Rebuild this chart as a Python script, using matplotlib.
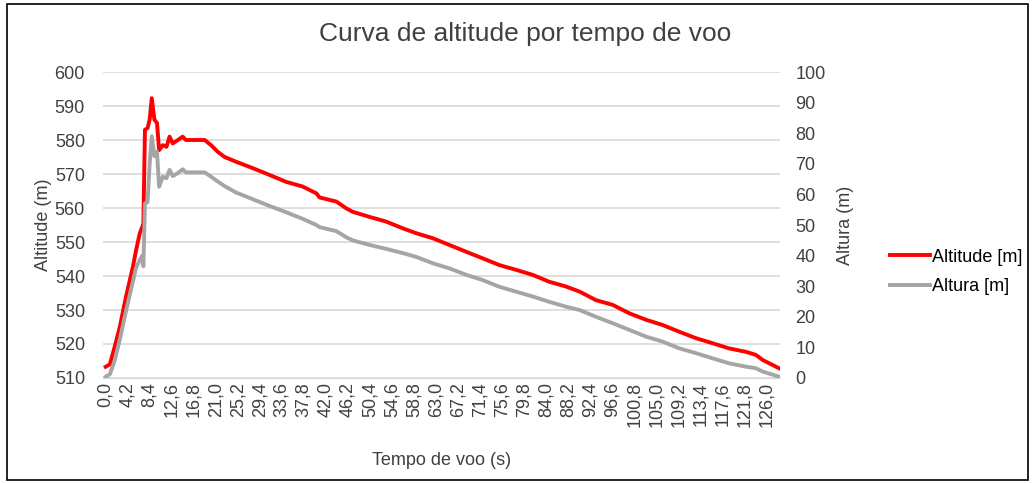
import numpy as np
import matplotlib.pyplot as plt
from matplotlib.patches import Rectangle
from matplotlib.lines import Line2D

plt.rcParams['font.family'] = ['Liberation Sans', 'DejaVu Sans']

# tempo de voo (s), altitude (m) e altura (m)
tempo = [0.0, 0.8, 1.7, 2.7, 3.9, 5.2, 5.8, 6.5, 7.0, 7.2, 7.5, 8.0, 8.4, 8.8,
         9.3, 9.8, 10.2, 10.9, 11.6, 12.2, 12.8, 13.8, 14.7, 15.3, 17.0, 18.9,
         20.1, 21.4, 22.7, 24.9, 28.1, 31.3, 34.4, 37.6, 40.2, 40.8, 44.0,
         45.9, 47.1, 50.3, 53.5, 56.7, 59.2, 62.4, 65.6, 68.8, 71.9, 75.1,
         78.3, 81.5, 84.6, 87.8, 90.4, 93.5, 96.7, 99.9, 103.1, 106.2, 109.4,
         112.6, 115.8, 118.9, 122.1, 124.0, 125.3, 128.5]
altitude = [513.3, 514.0, 519.0, 525.0, 534.0, 542.7, 547.5, 552.5, 554.5,
            555.5, 583.0, 583.5, 586.0, 592.3, 586.0, 585.0, 577.0, 578.5,
            578.0, 581.0, 579.0, 580.0, 581.0, 580.0, 580.0, 580.0, 578.5,
            576.5, 575.0, 573.6, 571.7, 569.7, 567.7, 566.3, 564.3, 563.1,
            561.9, 559.9, 558.9, 557.4, 556.0, 554.0, 552.6, 551.1, 549.1,
            547.1, 545.2, 543.2, 541.8, 540.3, 538.3, 536.9, 535.4, 532.9,
            531.5, 529.0, 527.1, 525.6, 523.6, 521.7, 520.2, 518.7, 517.7,
            516.8, 515.3, 512.8]
altura = [0.4, 1.2, 5.5, 12.5, 22.0, 31.5, 36.0, 38.5, 40.0, 36.5, 57.0,
          57.5, 70.0, 79.0, 72.5, 74.0, 62.5, 65.8, 65.3, 68.0, 66.0, 67.0,
          68.2, 67.2, 67.2, 67.2, 65.8, 64.2, 62.7, 60.6, 58.4, 56.2, 54.2,
          52.0, 50.0, 49.3, 48.0, 46.0, 45.0, 43.5, 42.2, 40.8, 39.6, 37.5,
          35.8, 33.7, 32.0, 29.8, 28.2, 26.6, 24.9, 23.3, 22.2, 20.0, 17.9,
          15.7, 13.5, 11.9, 9.7, 8.1, 6.4, 4.8, 3.7, 3.2, 2.1, 0.4]

xticks = [round(4.2 * i, 1) for i in range(31)]
xlabels = [('%.1f' % v).replace('.', ',') for v in xticks]

fs = 13
txt = '#404040'

fig = plt.figure(figsize=(10.32, 4.83), dpi=100)
ax = fig.add_axes([0.0998, 0.2174, 0.6560, 0.6335])
ay = ax.twinx()

red = '#FF0000'
grey = '#A5A5A5'
ax.plot(tempo, altitude, color=red, lw=2.8, solid_joinstyle='round')
ay.plot(tempo, altura, color=grey, lw=2.8, solid_joinstyle='round')

ax.set_xlim(-0.5, 128.6)
ax.set_ylim(510, 600)
ay.set_ylim(0, 100)
ax.set_yticks(range(510, 601, 10))
ay.set_yticks(range(0, 101, 10))
ax.set_xticks(xticks)
ax.set_xticklabels(xlabels, rotation=90)

for a in (ax, ay):
    for s in a.spines.values():
        s.set_visible(False)
    a.tick_params(length=0, labelsize=fs, colors=txt)
ax.spines['bottom'].set_visible(True)
ax.spines['bottom'].set_color('#d9d9d9')
ax.tick_params(axis='x', pad=3)
ax.tick_params(axis='y', pad=13)
ay.tick_params(axis='y', pad=11)
ax.grid(axis='y', color='#d9d9d9', lw=1.2)
ax.set_axisbelow(True)

ax.set_xlabel('Tempo de voo (s)', fontsize=fs, color=txt, labelpad=18)
ax.set_ylabel('Altitude (m)', fontsize=fs, color=txt, labelpad=2)
ay.set_ylabel('Altura (m)', fontsize=fs, color=txt, labelpad=8)

fig.text(0.509, 0.93, 'Curva de altitude por tempo de voo', ha='center',
         va='center', fontsize=19, color=txt)

handles = [Line2D([], [], color=red, lw=2.8), Line2D([], [], color=grey, lw=2.8)]
fig.legend(handles, ['Altitude [m]', 'Altura [m]'], loc='center left',
           bbox_to_anchor=(0.847, 0.437), frameon=False, fontsize=fs,
           handlelength=2.2, handletextpad=0.1, labelspacing=0.7)

fig.add_artist(Rectangle((0.007, 0.006), 0.989, 0.985, transform=fig.transFigure,
                         fill=False, ec='black', lw=1.2))

fig.savefig('out.png', dpi=100)
